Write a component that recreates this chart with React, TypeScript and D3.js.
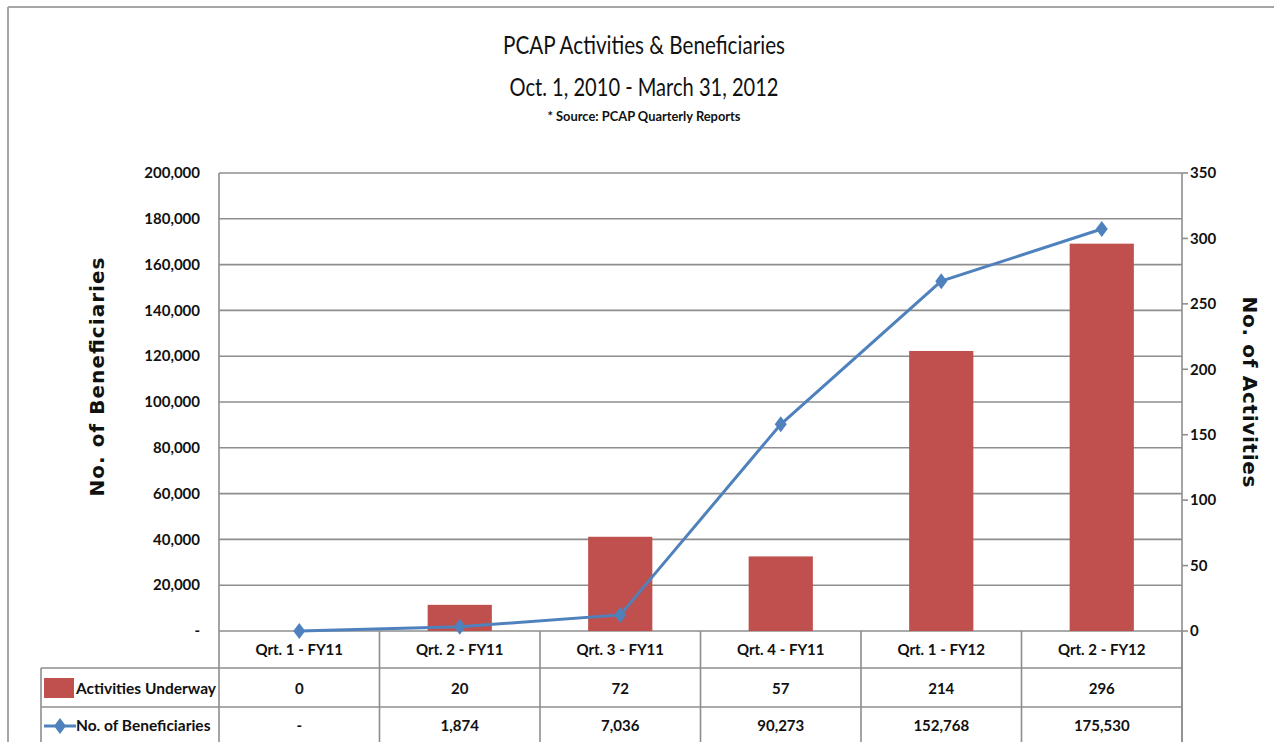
import React from "react";
import * as d3 from "d3";

const categories = ["Qrt. 1 - FY11", "Qrt. 2 - FY11", "Qrt. 3 - FY11", "Qrt. 4 - FY11", "Qrt. 1 - FY12", "Qrt. 2 - FY12"];
const activities = [0, 20, 72, 57, 214, 296];
const beneficiaries = [0, 1874, 7036, 90273, 152768, 175530];
const leftTicks = [0, 20000, 40000, 60000, 80000, 100000, 120000, 140000, 160000, 180000, 200000];
const rightTicks = [0, 50, 100, 150, 200, 250, 300, 350];
const seriesNames = ["Activities Underway", "No. of Beneficiaries"];
const titleLines = ["PCAP Activities & Beneficiaries", "Oct. 1, 2010 - March 31, 2012", "* Source: PCAP Quarterly Reports"];
const axisTitles = ["No. of Beneficiaries", "No. of Activities"];

const W = 1274, H = 742;
const plot = { l: 219, r: 1182, t: 173, b: 631 };
const RED = "#c0504d";
const BLUE = "#4f81bd";
const GRID = "#8e8e8e";
const FONT = "Lato, 'Open Sans', sans-serif";
const WIDE = "'DejaVu Sans', Verdana, sans-serif";

const fmt = (v: number) => (v === 0 ? "-" : d3.format(",")(v));

function Diamond({ x, y, s = 6 }: { x: number; y: number; s?: number }) {
  return <path d={`M${x},${y - s - 1}L${x + s - 1},${y}L${x},${y + s + 1}L${x - s + 1},${y}Z`} fill={BLUE} />;
}

export default function App() {
  const x = d3.scaleBand<string>().domain(categories).range([plot.l, plot.r]).paddingInner(0).paddingOuter(0);
  const yL = d3.scaleLinear().domain([0, 200000]).range([plot.b, plot.t]);
  const yR = d3.scaleLinear().domain([0, 350]).range([plot.b, plot.t]);
  const bw = x.bandwidth() * 0.4;
  const cx = (c: string) => (x(c) as number) + x.bandwidth() / 2;
  const line = d3
    .line<number>()
    .x((_, i) => cx(categories[i]))
    .y((d) => yL(d));

  const rows = [plot.b, 668, 707];
  const tableLeft = 41;

  return (
    <svg width={W} height={H} style={{ position: "absolute", left: 0, top: 0, background: "#fff" }}>
      <rect x={0} y={0} width={W} height={H} fill="#fff" />
      {/* outer border */}
      <line x1={8} y1={7} x2={W} y2={7} stroke="#a6a6a6" strokeWidth={2} />
      <line x1={8} y1={7} x2={8} y2={H} stroke="#a6a6a6" strokeWidth={2} />

      {/* titles */}
      <g fontFamily={FONT} fill="#111" textAnchor="middle">
        <text x={644} y={54} fontSize={25} textLength={282} lengthAdjust="spacingAndGlyphs">{titleLines[0]}</text>
        <text x={644} y={96} fontSize={25} textLength={269} lengthAdjust="spacingAndGlyphs">{titleLines[1]}</text>
        <text x={644} y={121} fontSize={13} fontWeight="bold" textLength={193} lengthAdjust="spacingAndGlyphs">{titleLines[2]}</text>
      </g>

      {/* gridlines */}
      {leftTicks.map((t) => (
        <line key={t} x1={plot.l} x2={plot.r} y1={yL(t)} y2={yL(t)} stroke={GRID} strokeWidth={1.6} />
      ))}
      {/* axes */}
      <line x1={plot.l} x2={plot.l} y1={plot.t} y2={H} stroke={GRID} strokeWidth={1.6} />
      <line x1={plot.r} x2={plot.r} y1={plot.t} y2={H} stroke={GRID} strokeWidth={1.6} />
      {rightTicks.map((t) => (
        <line key={t} x1={plot.r} x2={plot.r + 6} y1={yR(t)} y2={yR(t)} stroke={GRID} strokeWidth={1.6} />
      ))}

      {/* tick labels */}
      <g fontFamily={FONT} fontWeight="bold" fontSize={15} fill="#111">
        {leftTicks.map((t) => (
          <text key={t} x={200} y={yL(t)} dy="0.35em" textAnchor="end">
            {fmt(t)}
          </text>
        ))}
        {rightTicks.map((t) => (
          <text key={t} x={1190} y={yR(t)} dy="0.35em" textAnchor="start">
            {t}
          </text>
        ))}
      </g>

      {/* axis titles */}
      <text transform={`translate(104,377) rotate(-90)`} textAnchor="middle" fontFamily={WIDE} fontWeight="bold" fontSize={20} fill="#111" textLength={239} lengthAdjust="spacing">
        {axisTitles[0]}
      </text>
      <text transform={`translate(1243,392) rotate(90)`} textAnchor="middle" fontFamily={WIDE} fontWeight="bold" fontSize={20} fill="#111" textLength={191} lengthAdjust="spacing">
        {axisTitles[1]}
      </text>

      {/* bars */}
      {activities.map((v, i) => (
        <rect key={i} x={cx(categories[i]) - bw / 2} width={bw} y={yR(v)} height={plot.b - yR(v)} fill={RED} />
      ))}

      {/* line */}
      <path d={line(beneficiaries) || ""} fill="none" stroke={BLUE} strokeWidth={3} />
      {beneficiaries.map((v, i) => (
        <Diamond key={i} x={cx(categories[i])} y={yL(v)} s={7} />
      ))}

      {/* data table */}
      <g stroke={GRID} strokeWidth={1.6}>
        <line x1={tableLeft} x2={plot.r} y1={rows[1]} y2={rows[1]} />
        <line x1={tableLeft} x2={plot.r} y1={rows[2]} y2={rows[2]} />
        <line x1={tableLeft} x2={tableLeft} y1={rows[1]} y2={H} />
        {categories.map((c) => (
          <line key={c} x1={(x(c) as number) + x.bandwidth()} x2={(x(c) as number) + x.bandwidth()} y1={plot.b} y2={H} />
        ))}
      </g>
      <g fontFamily={FONT} fontWeight="bold" fontSize={15} fill="#111" textAnchor="middle">
        {categories.map((c, i) => (
          <g key={c}>
            <text x={cx(c)} y={650} dy="0.35em">{c}</text>
            <text x={cx(c)} y={689} dy="0.35em">{activities[i]}</text>
            <text x={cx(c)} y={726} dy="0.35em">{fmt(beneficiaries[i])}</text>
          </g>
        ))}
      </g>
      {/* legend keys */}
      <rect x={44} y={678} width={30} height={20} fill={RED} />
      <line x1={44} x2={76} y1={726} y2={726} stroke={BLUE} strokeWidth={3} />
      <Diamond x={60} y={726} s={7} />
      <g fontFamily={FONT} fontWeight="bold" fontSize={15.5} fill="#111">
        <text x={76} y={689} dy="0.35em">{seriesNames[0]}</text>
        <text x={76} y={726} dy="0.35em">{seriesNames[1]}</text>
      </g>
    </svg>
  );
}
